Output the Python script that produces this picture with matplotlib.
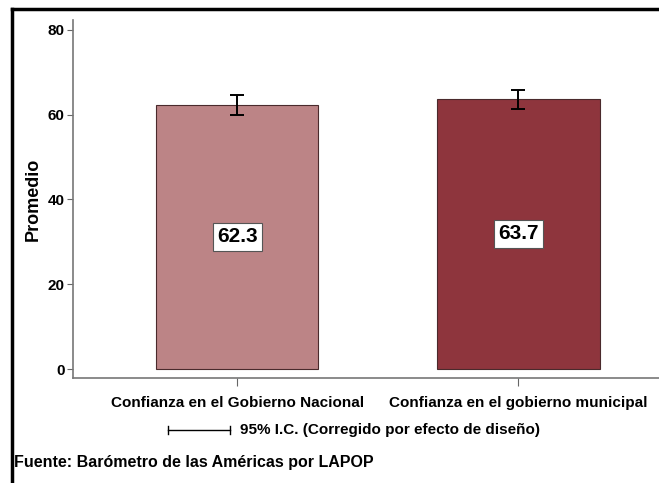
import numpy as np
import matplotlib.pyplot as plt
from matplotlib.lines import Line2D

# datos
categorias = ['Confianza en el Gobierno Nacional', 'Confianza en el gobierno municipal']
promedios = [62.3, 63.7]
ic_bajo = [59.8, 61.4]
ic_alto = [64.6, 65.9]
colores = ['#bc8486', '#8e353d']

plt.rcParams['font.family'] = ['Liberation Sans', 'DejaVu Sans']
plt.rcParams['font.weight'] = 'bold'

fig = plt.figure(figsize=(6.59, 4.83), dpi=100)
ax = fig.add_axes([73/659, 1-378/483, 586/659, 358/483])

x = np.arange(len(categorias))
ax.bar(x, promedios, width=0.577, color=colores, edgecolor='#4a2a2c', linewidth=0.8)
err = [np.array(promedios) - np.array(ic_bajo), np.array(ic_alto) - np.array(promedios)]
ax.errorbar(x, promedios, yerr=err, fmt='none', ecolor='black', elinewidth=1.4,
            capsize=5, capthick=1.4)

for xi, v in zip(x, promedios):
    ax.text(xi, v/2, f'{v:.1f}', ha='center', va='center', fontsize=15, fontweight='bold',
            bbox=dict(boxstyle='square,pad=0.2', facecolor='white', edgecolor='#555555', linewidth=0.8))

ax.set_xlim(-0.584, 1.5)
ax.set_ylim(-2.1, 82.3)
ax.set_yticks([0, 20, 40, 60, 80])
ax.set_xticks(x)
ax.set_xticklabels(categorias, fontsize=11, fontweight='bold')
ax.tick_params(axis='y', labelsize=11, length=4, color='#666666', pad=2)
ax.tick_params(axis='x', length=6, color='#666666', pad=7)
ax.set_ylabel('Promedio', fontsize=13, fontweight='bold', labelpad=4)

for s in ['top', 'right']:
    ax.spines[s].set_visible(False)
for s in ['left', 'bottom']:
    ax.spines[s].set_color('#777777')
    ax.spines[s].set_linewidth(1.2)

# leyenda del intervalo
y_leg = 1 - 430/483
fig.add_artist(Line2D([168/659, 230/659], [y_leg, y_leg], color='black', lw=1))
for xx in [168/659, 230/659]:
    fig.add_artist(Line2D([xx, xx], [y_leg - 4/483, y_leg + 4/483], color='black', lw=1))
fig.text(240/659, y_leg, '95% I.C. (Corregido por efecto de diseño)', fontsize=11,
         fontweight='bold', va='center', ha='left')

fig.text(14/659, 1 - 462/483, 'Fuente: Barómetro de las Américas por LAPOP', fontsize=11.5,
         fontweight='bold', va='center', ha='left')

# marco exterior
fig.add_artist(Line2D([12/659, 12/659], [0, 1 - 9/483], color='black', lw=2.5))
fig.add_artist(Line2D([12/659, 1], [1 - 9/483, 1 - 9/483], color='black', lw=2.5))

fig.savefig('out.png', dpi=100)
